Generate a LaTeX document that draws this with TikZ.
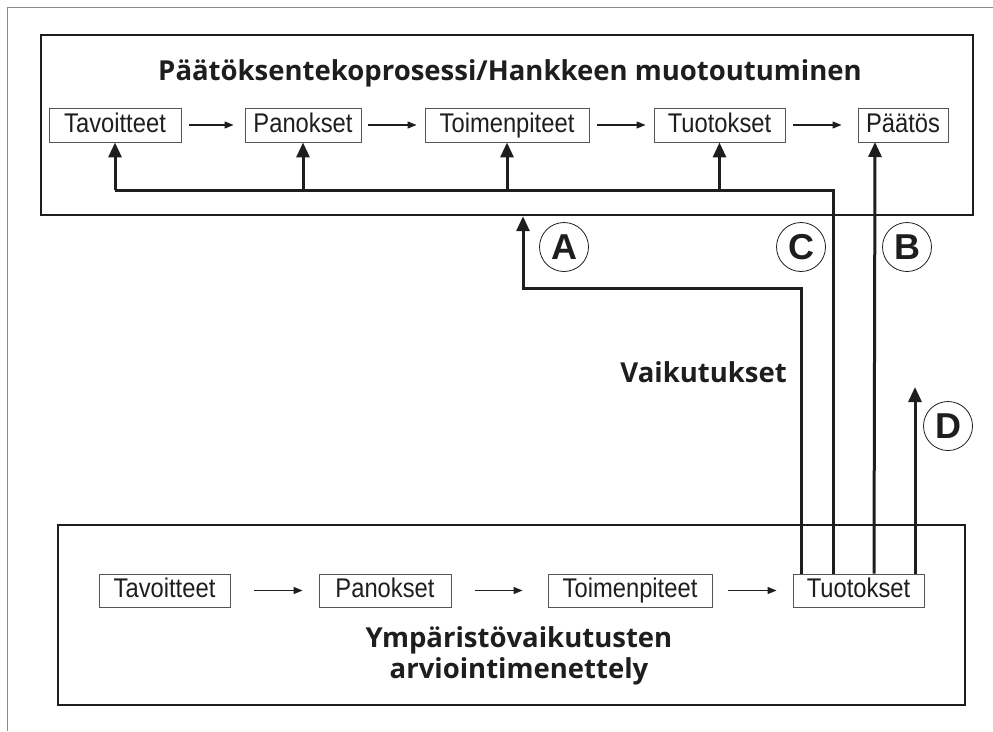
\documentclass[tikz,border=0pt]{standalone}
\usepackage{fontspec}
\setmainfont{Liberation Sans}
\newfontfamily\headfont{Open Sans}
\newfontfamily\boxfont{Liberation Sans}[FakeStretch=0.88]
\usetikzlibrary{arrows.meta}
\definecolor{ink}{HTML}{1E1E1E}
\definecolor{boxgray}{HTML}{555555}
\definecolor{framegray}{HTML}{8A8A8A}
\begin{document}
\begin{tikzpicture}[x=1pt,y=-1pt,
  bigbox/.style={draw=ink,line width=2.4pt},
  sbox/.style={draw=boxgray,line width=0.9pt,inner sep=0pt,minimum height=34pt,
    text height=19.5pt,text depth=5pt,
    font=\fontsize{27}{30}\boxfont,text=ink},
  tarrow/.style={draw=ink,line width=1.2pt,-{Triangle[length=9pt,width=7pt]}},
  fbline/.style={draw=ink,line width=3pt},
  fbarrow/.style={draw=ink,line width=3pt,-{Triangle[length=15pt,width=13pt]}},
  circ/.style={circle,draw=ink,line width=0.8pt,minimum size=49pt,inner sep=0pt,
    font=\fontsize{36}{36}\selectfont\bfseries,text=ink},
  head/.style={font=\fontsize{27.5}{31}\selectfont\headfont\bfseries,text=ink,inner sep=0pt}
]
\useasboundingbox (0,0) rectangle (993,731);
% outer frame (cropped)
\draw[framegray,line width=1pt] (7,731) -- (7,7) -- (993,7);
% top box
\node[bigbox,minimum width=932pt,minimum height=180pt,inner sep=0pt] (topbox) at (507,125) {};
\node[head,anchor=base] (ttl) at (510,80) {Päätöksentekoprosessi/Hankkeen muotoutuminen};
\node[sbox,minimum width=132pt] (t1) at (115,125) {Tavoitteet};
\node[sbox,minimum width=116pt] (t2) at (303,125) {Panokset};
\node[sbox,minimum width=164pt] (t3) at (507,125) {Toimenpiteet};
\node[sbox,minimum width=131pt] (t4) at (719.5,125) {Tuotokset};
\node[sbox,minimum width=90pt] (t5) at (903,125) {Päätös};
\draw[tarrow] ([xshift=8pt]t1.east) -- ([xshift=-11pt]t2.west);
\draw[tarrow] ([xshift=7pt]t2.east) -- ([xshift=-8pt]t3.west);
\draw[tarrow] ([xshift=8pt]t3.east) -- ([xshift=-8pt]t4.west);
\draw[tarrow] ([xshift=8pt]t4.east) -- ([xshift=-16pt]t5.west);
% bottom box
\node[bigbox,minimum width=907pt,minimum height=180pt,inner sep=0pt] (botbox) at (511.5,615) {};
\node[sbox,minimum width=131pt,minimum height=33pt] (b1) at (164.5,590.5) {Tavoitteet};
\node[sbox,minimum width=132pt,minimum height=33pt] (b2) at (385,590.5) {Panokset};
\node[sbox,minimum width=164pt,minimum height=33pt] (b3) at (630,590.5) {Toimenpiteet};
\node[sbox,minimum width=131pt,minimum height=33pt] (b4) at (858.5,590.5) {Tuotokset};
\draw[tarrow] ([xshift=24pt]b1.east) -- ([xshift=-16pt]b2.west);
\draw[tarrow] ([xshift=24pt]b2.east) -- ([xshift=-25pt]b3.west);
\draw[tarrow] ([xshift=16pt]b3.east) -- ([xshift=-16pt]b4.west);
\node[head,anchor=base] (btl1) at (519,647) {Ympäristövaikutusten};
\node[head,anchor=base] (btl2) at (519,678) {arviointimenettely};
% feedback C
\coordinate (kc) at (115,190);
\draw[fbline] ([xshift=-25.5pt]b4.north) |- (kc);
\draw[fbarrow] (kc) -- (t1.south);
\draw[fbarrow] (t2.south |- kc) -- (t2.south);
\draw[fbarrow] (t3.south |- kc) -- (t3.south);
\draw[fbarrow] (t4.south |- kc) -- (t4.south);
% A
\coordinate (ka) at (523,288);
\draw[fbarrow] ([xshift=-57.5pt]b4.north) |- (ka) -- (ka |- topbox.south);
% B
\coordinate (kb) at (875,142);
\draw[fbarrow] ([xshift=15.5pt]b4.north) -- (kb);
% D
\coordinate (kd) at (915,387);
\draw[fbarrow] ([xshift=56.5pt]b4.north) -- (kd);
% labels
\node[circ] (ca) at (564,247) {A};
\node[circ] (cc) at (801,247) {C};
\node[circ] (cb) at (907,247) {B};
\node[circ] (cd) at (948,426) {D};
\node[head,anchor=base east] (vk) at (787,382) {Vaikutukset};
\end{tikzpicture}
\end{document}
